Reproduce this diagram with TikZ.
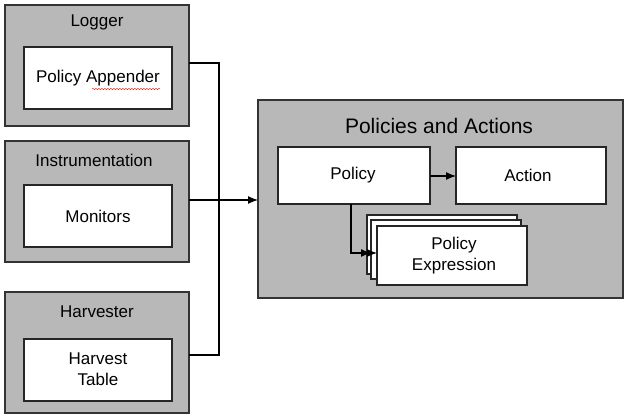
\documentclass[tikz,border=0pt]{standalone}
\usepackage{fontspec}
\setmainfont{Liberation Sans}
\usetikzlibrary{arrows.meta,decorations.pathmorphing}
\begin{document}
\begin{tikzpicture}[x=1pt,y=-1pt,
 outer/.style={draw=black!80,fill=gray!45!black!55,fill=black!28,line width=1.6pt},
 inner/.style={draw=black!85,fill=white,line width=1.6pt},
 lbl/.style={font=\fontsize{17}{21}\selectfont,align=center},
 conn/.style={line width=1.2pt},
 arr/.style={conn,-{Latex[length=10pt,width=8pt]}}]
\useasboundingbox (0,0) rectangle (631,419);
% Logger
\draw[outer] (5,5) rectangle (189,126);
\node[lbl] (logT) at (97,22) {Logger};
\draw[inner] (24,47) rectangle (172,109);
\node[lbl] (pa) at (98,78) {Policy Appender};
\draw[red,decorate,decoration={snake,amplitude=0.7pt,segment length=3pt}] (92,89) -- (160,89);
% Instrumentation
\draw[outer] (5,141) rectangle (189,262);
\node[lbl] (insT) at (94,160) {Instrumentation};
\draw[inner] (24,185) rectangle (172,247);
\node[lbl] (mon) at (98,216) {Monitors};
% Harvester
\draw[outer] (5,292) rectangle (189,413);
\node[lbl] (harT) at (97,312) {Harvester};
\draw[inner] (24,339) rectangle (172,401);
\node[lbl] (ht) at (98,369) {Harvest\\Table};
% Policies and Actions
\draw[outer] (258,100) rectangle (623,298);
\node[font=\fontsize{21}{24}\selectfont] (pat) at (439,126) {Policies and Actions};
\draw[inner] (278,147) rectangle (430,204);
\node[lbl] (pol) at (353,175) {Policy};
\draw[inner] (456,147) rectangle (606,204);
\node[lbl] (act) at (528,175) {Action};
\draw[inner] (367,215) rectangle (517,274);
\draw[inner] (371,220) rectangle (521,279);
\draw[inner] (377,226) rectangle (527,285);
\node[lbl] (pe) at (454,256) {Policy\\Expression};
% connectors
\coordinate (j1) at (219,63);
\coordinate (j2) at (219,355);
\draw[conn] (189,63) -- (j1) -- (j2) -- (189,355);
\draw[arr] (189,200) -- (258,200);
\draw[arr] (430,176) -- (456,176);
\draw[arr] (351,204) -- (351,253) -- (371,253);
\draw[arr] (351,253) -- (377,253);
\end{tikzpicture}
\end{document}
